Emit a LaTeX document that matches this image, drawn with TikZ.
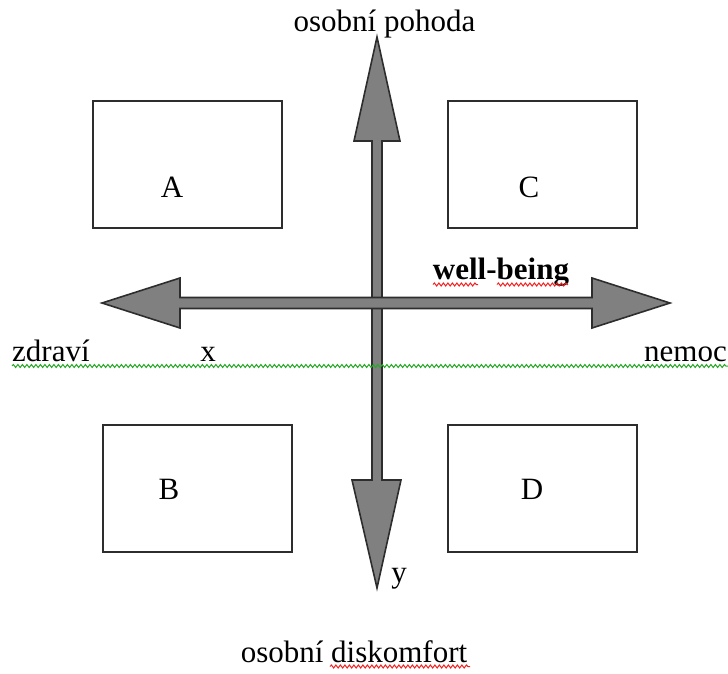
\documentclass[tikz,border=0pt]{standalone}
\usepackage{fontspec}
\setmainfont{Liberation Serif}
\usetikzlibrary{decorations.pathmorphing}
\definecolor{arrowfill}{RGB}{128,128,128}
\definecolor{arrowedge}{RGB}{45,45,45}
\definecolor{boxedge}{RGB}{45,45,45}
\definecolor{spellred}{RGB}{240,30,30}
\definecolor{spellgreen}{RGB}{40,170,40}
\begin{document}
\begin{tikzpicture}[x=1pt,y=-1pt,
  quad/.style={draw=boxedge,line width=2pt,minimum width=189pt,minimum height=127pt,inner sep=0pt,anchor=north west},
  lbl/.style={font=\fontsize{31}{31}\selectfont,inner sep=0pt,anchor=base},
  bigarrow/.style={fill=arrowfill,draw=arrowedge,line width=1.6pt,line join=miter},
  squiggle/.style={decorate,decoration={snake,amplitude=1.5pt,segment length=4.5pt},line width=1pt}]
\useasboundingbox (0,0) rectangle (728,673);

% four quadrant boxes
\node[quad] (boxA) at (92,100) {};
\node[quad] (boxC) at (447,100) {};
\node[quad] (boxB) at (102,424) {};
\node[quad] (boxD) at (447,424) {};
\node[lbl] (lA) at (172,197) {A};
\node[lbl] (lC) at (529,197) {C};
\node[lbl] (lB) at (169,499) {B};
\node[lbl] (lD) at (532,499) {D};

% vertical double arrow (y axis)
\coordinate (vt) at (377,37);
\coordinate (vb) at (377,588);
\draw[bigarrow] (vt) -- (400,141) -- (382,141) -- (382,480) -- (401,480) -- (vb)
  -- (352,480) -- (372,480) -- (372,141) -- (354,141) -- cycle;

% horizontal double arrow (x axis)
\coordinate (hl) at (102,303);
\coordinate (hr) at (670,303);
\draw[bigarrow] (hl) -- (180,278) -- (180,297.5) -- (592,297.5) -- (592,278) -- (hr)
  -- (592,328) -- (592,308.5) -- (180,308.5) -- (180,328) -- cycle;

% axis texts
\node[lbl] (top) at (384.5,31) {osobní pohoda};
\node[lbl] (bottom) at (354,662) {osobní diskomfort};
\node[lbl] (wb) at (501,279) {\bfseries well-being};
\node[lbl,anchor=base west] (zdr) at (12,361) {zdraví};
\node[lbl] (xl) at (208,361) {x};
\node[lbl,anchor=base east] (nem) at (727,361) {nemoc};
\node[lbl] (yl) at (399,582) {y};

% wavy underlines
\draw[squiggle,spellgreen] (12,366) -- (728,366);
\draw[squiggle,spellred] (433,284.5) -- (478,284.5);
\draw[squiggle,spellred] (497,284.5) -- (568,284.5);
\draw[squiggle,spellred] (330,666.5) -- (470,666.5);
\end{tikzpicture}
\end{document}
